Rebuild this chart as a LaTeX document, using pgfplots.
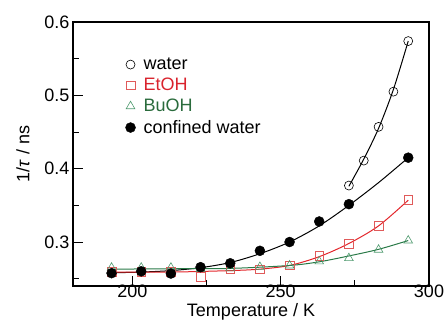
\documentclass[border=0pt]{standalone}
\usepackage{pgfplots}
\pgfplotsset{compat=1.18}
\usepackage{fontspec}
\setmainfont{Liberation Sans}
\definecolor{redline}{HTML}{E3262B}
\definecolor{redmark}{HTML}{E05A5A}
\definecolor{redtext}{HTML}{D9232D}
\definecolor{greenline}{HTML}{2A7A48}
\definecolor{greenmark}{HTML}{4E9A6E}
\definecolor{greentext}{HTML}{2A6B3C}
\begin{document}
\begin{tikzpicture}
\begin{axis}[
  at={(0,0)}, anchor=south west,
  scale only axis, width=356pt, height=264pt,
  xmin=180, xmax=300, ymin=0.24, ymax=0.6,
  xtick={200,250,300}, minor xtick={225,275},
  ytick={0.3,0.4,0.5,0.6}, yticklabels={0.3,0.4,0.5,0.6},
  minor ytick={0.25,0.35,0.45,0.55},
  xtick pos=bottom, ytick pos=left, tick align=inside,
  major tick length=10pt, minor tick length=6pt,
  every tick/.style={black, line width=1pt},
  axis line style={line width=1.3pt},
  /pgf/number format/assume math mode=true,
  tick label style={font=\fontsize{18}{20}\selectfont},
  xticklabel style={yshift=2pt, inner sep=1pt},
  label style={font=\fontsize{18}{20}\selectfont},
  xlabel={Temperature / K}, ylabel={1/\textit{τ} / ns},
  xlabel style={at={(axis description cs:0.5,0)}, anchor=north, yshift=-16pt, inner sep=1pt},
  ylabel style={yshift=8pt},
  legend style={at={(0.147,0.872)}, anchor=north west, draw=none, fill=none,
    font=\fontsize{18}{21}\selectfont, inner sep=0pt, row sep=3pt,
    /tikz/every odd column/.append style={column sep=6pt}},
  legend cell align=left,
]
% fitted curves
\addplot[black, line width=1pt, smooth, forget plot] coordinates {
(273,0.376) (278,0.413) (283,0.455) (288,0.508) (293,0.574)};
\addplot[black, line width=1pt, smooth, forget plot] coordinates {
(193,0.258) (203,0.259) (213,0.261) (223,0.265) (233,0.272) (243,0.284) (253,0.300) (263,0.322) (273,0.350) (283,0.381) (293,0.415)};
\addplot[redline, line width=1pt, smooth, forget plot] coordinates {
(193,0.259) (213,0.259) (233,0.261) (243,0.263) (253,0.268) (263,0.280) (273,0.298) (283,0.322) (293,0.357)};
\addplot[greenline, line width=1pt, smooth, forget plot] coordinates {
(193,0.263) (213,0.2635) (233,0.264) (253,0.268) (263,0.273) (273,0.281) (283,0.290) (293,0.302)};
% data
\addplot[only marks, mark=o, mark size=4.5pt, mark options={black, line width=0.6pt}] coordinates {
(273,0.377) (278,0.411) (283,0.457) (288,0.505) (293,0.574)};
\addlegendentry{water}
\addplot[only marks, mark=square, mark size=4.3pt, mark options={redmark, line width=0.6pt}] coordinates {
(193,0.259) (203,0.259) (213,0.259) (223,0.2525) (233,0.263) (243,0.263) (253,0.268) (263,0.2815) (273,0.2977) (283,0.322) (293,0.3574)};
\addlegendentry{\textcolor{redtext}{EtOH}}
\addplot[only marks, mark=triangle, mark size=5pt, mark options={greenmark, line width=0.6pt}] coordinates {
(193,0.265) (203,0.265) (213,0.265) (223,0.263) (233,0.264) (243,0.266) (253,0.268) (263,0.2735) (273,0.278) (283,0.2895) (293,0.302)};
\addlegendentry{\textcolor{greentext}{BuOH}}
\addplot[only marks, mark=*, mark size=5pt, mark options={black}] coordinates {
(193,0.2575) (203,0.260) (213,0.257) (223,0.2657) (233,0.271) (243,0.288) (253,0.300) (263,0.328) (273,0.3516) (293,0.415)};
\addlegendentry{confined water}
\end{axis}
\pgfresetboundingbox
\path[use as bounding box] (-73pt,-36pt) rectangle (373pt,286pt);
\end{tikzpicture}
\end{document}
